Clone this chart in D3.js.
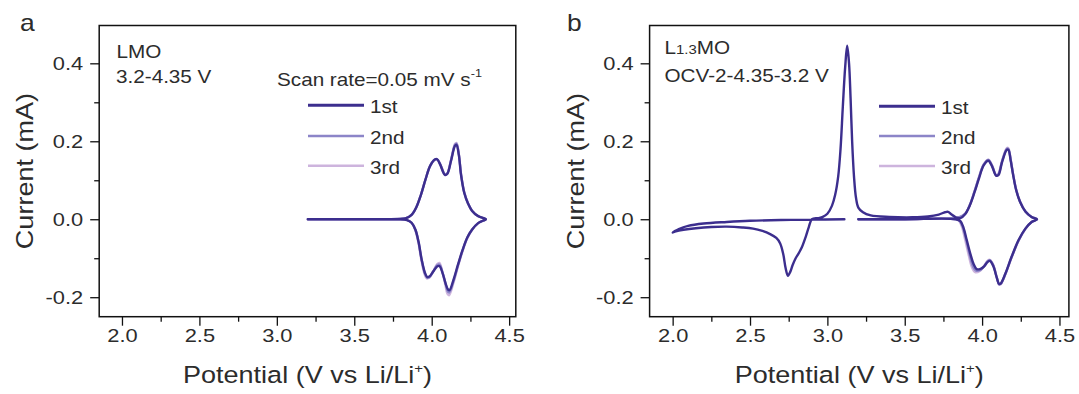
<!DOCTYPE html>
<html>
<head>
<meta charset="utf-8">
<script src="https://cdn.jsdelivr.net/npm/d3@7"></script>
<style>
  html, body { margin: 0; padding: 0; background: #fff; }
  svg { display: block; }
</style>
</head>
<body>
<svg id="chart" width="1079" height="394"></svg>
<script>
// ---- axis ticks ----
const potentialMajor = [2.0, 2.5, 3.0, 3.5, 4.0, 4.5];
const potentialMinor = [2.25, 2.75, 3.25, 3.75, 4.25];
const currentMajor = [-0.2, 0.0, 0.2, 0.4];
const currentMinor = [-0.1, 0.1, 0.3];
const cycleNames = ["1st", "2nd", "3rd"];

// ---- LMO, 3.2-4.35 V : [potential V, current mA] along the scan ----
const lmoCycle1 = [
  [3.20, 0.000], [3.50, 0.000], [3.70, 0.000], [3.78, 0.0005], [3.83, 0.002], [3.87, 0.011],
  [3.90, 0.030], [3.93, 0.062], [3.96, 0.102], [3.99, 0.137], [4.02, 0.153], [4.035, 0.154],
  [4.055, 0.140], [4.085, 0.114], [4.10, 0.116], [4.125, 0.150], [4.15, 0.188], [4.16, 0.191],
  [4.175, 0.165], [4.19, 0.112], [4.21, 0.068], [4.235, 0.040], [4.26, 0.022], [4.30, 0.008],
  [4.35, 0.000],
  [4.33, -0.004], [4.30, -0.010], [4.26, -0.027], [4.23, -0.047], [4.20, -0.078], [4.17, -0.116],
  [4.14, -0.156], [4.115, -0.182], [4.105, -0.180], [4.09, -0.165], [4.07, -0.138], [4.05, -0.120],
  [4.035, -0.121], [4.01, -0.134], [3.985, -0.147], [3.97, -0.148], [3.955, -0.136], [3.935, -0.103],
  [3.915, -0.058], [3.895, -0.027], [3.87, -0.009], [3.84, -0.002], [3.78, 0.000], [3.50, 0.000],
  [3.20, 0.000]
];
const lmoCycle2 = [
  [3.20, 0.000], [3.50, 0.000], [3.70, 0.000], [3.78, 0.0005], [3.83, 0.002], [3.87, 0.011],
  [3.90, 0.030], [3.93, 0.062], [3.96, 0.102], [3.99, 0.137], [4.02, 0.153], [4.035, 0.154],
  [4.055, 0.141], [4.085, 0.115], [4.10, 0.117], [4.125, 0.152], [4.15, 0.191], [4.16, 0.194],
  [4.175, 0.167], [4.19, 0.114], [4.21, 0.069], [4.235, 0.040], [4.26, 0.022], [4.30, 0.008],
  [4.35, 0.000],
  [4.33, -0.004], [4.30, -0.010], [4.26, -0.027], [4.23, -0.047], [4.20, -0.079], [4.17, -0.118],
  [4.14, -0.160], [4.113, -0.188], [4.103, -0.185], [4.09, -0.166], [4.07, -0.136], [4.05, -0.116],
  [4.035, -0.118], [4.01, -0.134], [3.985, -0.149], [3.97, -0.150], [3.955, -0.138], [3.935, -0.104],
  [3.915, -0.058], [3.895, -0.027], [3.87, -0.009], [3.84, -0.002], [3.78, 0.000], [3.50, 0.000],
  [3.20, 0.000]
];
const lmoCycle3 = [
  [3.20, 0.000], [3.50, 0.000], [3.70, 0.000], [3.78, 0.0005], [3.83, 0.002], [3.87, 0.011],
  [3.90, 0.030], [3.93, 0.062], [3.96, 0.102], [3.99, 0.137], [4.02, 0.152], [4.035, 0.153],
  [4.055, 0.141], [4.085, 0.116], [4.10, 0.118], [4.125, 0.153], [4.15, 0.193], [4.16, 0.196],
  [4.175, 0.169], [4.19, 0.115], [4.21, 0.070], [4.235, 0.041], [4.26, 0.022], [4.30, 0.008],
  [4.35, 0.000],
  [4.33, -0.004], [4.30, -0.010], [4.26, -0.028], [4.23, -0.049], [4.20, -0.081], [4.17, -0.121],
  [4.14, -0.164], [4.112, -0.195], [4.101, -0.191], [4.088, -0.168], [4.068, -0.134], [4.05, -0.112],
  [4.035, -0.115], [4.01, -0.133], [3.985, -0.150], [3.968, -0.152], [3.953, -0.140], [3.933, -0.105],
  [3.913, -0.058], [3.893, -0.027], [3.87, -0.009], [3.84, -0.002], [3.78, 0.000], [3.50, 0.000],
  [3.20, 0.000]
];

// ---- L1.3MO, OCV-2-4.35-3.2 V ----
const l13moCycle1 = [
  [3.11, 0.000], [2.90, -0.001], [2.70, -0.002], [2.50, -0.004], [2.35, -0.007], [2.20, -0.011],
  [2.10, -0.017], [2.04, -0.025], [2.00, -0.034],
  [2.02, -0.031], [2.07, -0.027], [2.15, -0.023], [2.25, -0.020], [2.35, -0.019], [2.45, -0.021],
  [2.52, -0.024], [2.58, -0.030], [2.63, -0.038], [2.67, -0.048], [2.695, -0.062], [2.715, -0.090],
  [2.73, -0.125], [2.745, -0.145], [2.76, -0.135], [2.775, -0.118], [2.795, -0.100], [2.815, -0.087],
  [2.835, -0.072], [2.86, -0.045], [2.88, -0.020], [2.90, 0.000], [2.94, 0.003], [2.97, 0.006],
  [3.00, 0.014], [3.03, 0.035], [3.05, 0.062], [3.07, 0.110], [3.085, 0.180], [3.10, 0.290],
  [3.115, 0.390], [3.128, 0.445], [3.14, 0.400], [3.15, 0.310], [3.16, 0.200], [3.172, 0.110],
  [3.185, 0.055], [3.20, 0.030], [3.23, 0.018], [3.28, 0.010], [3.40, 0.006], [3.55, 0.005],
  [3.65, 0.007], [3.72, 0.012], [3.76, 0.018], [3.78, 0.019], [3.80, 0.013], [3.83, 0.005],
  [3.86, 0.003], [3.89, 0.013], [3.92, 0.035], [3.95, 0.068], [3.98, 0.105], [4.01, 0.138],
  [4.04, 0.150], [4.065, 0.135], [4.09, 0.112], [4.105, 0.113], [4.13, 0.148], [4.16, 0.178],
  [4.17, 0.178], [4.185, 0.150], [4.20, 0.115], [4.22, 0.075], [4.245, 0.045], [4.28, 0.020],
  [4.32, 0.006], [4.355, 0.000],
  [4.32, -0.007], [4.28, -0.024], [4.235, -0.054], [4.19, -0.097], [4.15, -0.140], [4.12, -0.165],
  [4.11, -0.166], [4.095, -0.150], [4.072, -0.120], [4.05, -0.107], [4.035, -0.110], [4.015, -0.120],
  [3.99, -0.127], [3.965, -0.128], [3.945, -0.115], [3.925, -0.090], [3.90, -0.052], [3.88, -0.022],
  [3.86, -0.005], [3.83, 0.000], [3.50, 0.000], [3.20, 0.000]
];
const l13moCycle2 = [
  [3.20, 0.000], [3.50, 0.001], [3.70, 0.002], [3.80, 0.003], [3.85, 0.005], [3.89, 0.014],
  [3.92, 0.036], [3.95, 0.070], [3.98, 0.108], [4.01, 0.140], [4.04, 0.152], [4.065, 0.137],
  [4.09, 0.113], [4.105, 0.115], [4.13, 0.150], [4.16, 0.181], [4.17, 0.180], [4.185, 0.152],
  [4.20, 0.116], [4.22, 0.076], [4.245, 0.045], [4.28, 0.020], [4.32, 0.006], [4.355, 0.000],
  [4.32, -0.007], [4.28, -0.024], [4.235, -0.055], [4.19, -0.098], [4.15, -0.141], [4.12, -0.166],
  [4.11, -0.167], [4.095, -0.150], [4.072, -0.118], [4.05, -0.105], [4.035, -0.108], [4.015, -0.120],
  [3.99, -0.130], [3.96, -0.132], [3.94, -0.120], [3.92, -0.092], [3.895, -0.050], [3.875, -0.020],
  [3.855, -0.004], [3.83, 0.000], [3.50, 0.000], [3.20, 0.000]
];
const l13moCycle3 = [
  [3.20, 0.000], [3.50, 0.001], [3.70, 0.002], [3.80, 0.003], [3.85, 0.005], [3.89, 0.014],
  [3.92, 0.036], [3.95, 0.071], [3.98, 0.109], [4.01, 0.141], [4.04, 0.153], [4.065, 0.138],
  [4.09, 0.114], [4.105, 0.117], [4.13, 0.152], [4.16, 0.183], [4.17, 0.182], [4.185, 0.154],
  [4.20, 0.117], [4.22, 0.077], [4.245, 0.046], [4.28, 0.020], [4.32, 0.006], [4.355, 0.000],
  [4.32, -0.007], [4.28, -0.025], [4.235, -0.056], [4.19, -0.099], [4.15, -0.142], [4.12, -0.167],
  [4.11, -0.168], [4.095, -0.150], [4.072, -0.117], [4.05, -0.104], [4.035, -0.107], [4.01, -0.121],
  [3.985, -0.133], [3.955, -0.136], [3.935, -0.124], [3.915, -0.095], [3.89, -0.052], [3.87, -0.020],
  [3.85, -0.004], [3.83, 0.000], [3.50, 0.000], [3.20, 0.000]
];

// ---- styling ----
const FONT = "'Liberation Sans', Arial, Helvetica, sans-serif";
const STRETCH = 1.15;              // glyphs are drawn a little wider than the font's default
const cycleColors = ["#3c2e8e", "#8c85c8", "#cdb4dd"];
const cycleWidths = [2.4, 2.3, 2.3];
const legendWidths = [3, 2.5, 2.5];
const TEXT = "#2c2c2c";

const svg = d3.select("#chart");

function addText(g, x, y, parts, size, opts = {}) {
  const rot = opts.rotate ? ` rotate(${opts.rotate})` : "";
  const t = g.append("text")
    .attr("transform", `translate(${x},${y})${rot} scale(${STRETCH},1)`)
    .attr("font-family", FONT)
    .attr("font-size", size)
    .attr("fill", TEXT)
    .attr("text-anchor", opts.anchor || "start");
  parts.forEach(p => {
    const s = t.append("tspan").text(p.text);
    if (p.size) s.attr("font-size", p.size);
    if (p.dy) s.attr("dy", p.dy);
  });
  return t;
}

function drawPanel(cfg) {
  const g = svg.append("g");
  const x = d3.scaleLinear().domain(cfg.xDomain).range([cfg.left, cfg.right]);
  const y = d3.scaleLinear().domain([-0.25, 0.497]).range([cfg.bottom, cfg.top]);

  // CV curves: later cycles underneath, first cycle on top
  const line = d3.line()
    .x(d => x(d[0]))
    .y(d => y(d[1]))
    .curve(d3.curveCatmullRom.alpha(0.5));
  [2, 1, 0].forEach(i => {
    g.append("path")
      .datum(cfg.cycles[i])
      .attr("d", line)
      .attr("fill", "none")
      .attr("stroke", cycleColors[i])
      .attr("stroke-width", cycleWidths[i])
      .attr("stroke-linejoin", "round")
      .attr("stroke-linecap", "round");
  });

  // axes (outward ticks)
  const fmt = d => d.toFixed(1);
  const xAx = g.append("g").attr("transform", `translate(0,${cfg.bottom})`)
    .call(d3.axisBottom(x).tickValues(potentialMajor).tickFormat(fmt).tickSize(9).tickPadding(3).tickSizeOuter(0));
  g.append("g").attr("transform", `translate(0,${cfg.bottom})`)
    .call(d3.axisBottom(x).tickValues(potentialMinor).tickFormat("").tickSize(5).tickSizeOuter(0));
  const yAx = g.append("g").attr("transform", `translate(${cfg.left},0)`)
    .call(d3.axisLeft(y).tickValues(currentMajor).tickFormat(fmt).tickSize(9).tickPadding(7).tickSizeOuter(0));
  g.append("g").attr("transform", `translate(${cfg.left},0)`)
    .call(d3.axisLeft(y).tickValues(currentMinor).tickFormat("").tickSize(5).tickSizeOuter(0));

  g.selectAll(".domain").remove();
  g.selectAll(".tick line").attr("stroke", "#111").attr("stroke-width", 1.3);
  [xAx, yAx].forEach(ax => {
    ax.selectAll("text")
      .attr("font-family", FONT)
      .attr("font-size", 19)
      .attr("fill", TEXT)
      .each(function () {
        const el = d3.select(this);
        const tx = +el.attr("x") || 0;
        el.attr("x", tx / STRETCH).attr("transform", `scale(${STRETCH},1)`);
      });
  });

  // frame
  g.append("rect")
    .attr("x", cfg.left).attr("y", cfg.top)
    .attr("width", cfg.right - cfg.left).attr("height", cfg.bottom - cfg.top)
    .attr("fill", "none").attr("stroke", "#111").attr("stroke-width", 1.5);

  // axis titles
  addText(g, (cfg.left + cfg.right) / 2, 383,
    [{ text: "Potential (V vs Li/Li" }, { text: "+", size: 13, dy: -10 }, { text: ")", dy: 10 }],
    23.5, { anchor: "middle" });
  addText(g, cfg.yTitleX, (cfg.top + cfg.bottom) / 2, [{ text: "Current (mA)" }], 23.5,
    { anchor: "middle", rotate: -90 });

  // panel letter
  addText(g, cfg.letterX, 31, [{ text: cfg.letter }], 23);

  // annotations
  cfg.notes.forEach(n => addText(g, n.x, n.y, n.parts, 18));

  // legend
  cycleNames.forEach((name, i) => {
    const ly = cfg.legendY[i];
    g.append("line")
      .attr("x1", cfg.legendX).attr("x2", cfg.legendX + 56)
      .attr("y1", ly).attr("y2", ly)
      .attr("stroke", cycleColors[i]).attr("stroke-width", legendWidths[i]);
    addText(g, cfg.legendX + 62, ly + 8, [{ text: name }], 18);
  });
}

drawPanel({
  letter: "a", letterX: 20,
  left: 99.2, right: 515.8, top: 25.5, bottom: 316.7,
  xDomain: [1.853, 4.543],
  yTitleX: 32.5,
  cycles: [lmoCycle1, lmoCycle2, lmoCycle3],
  legendX: 308, legendY: [105.3, 136, 165.7],
  notes: [
    { x: 116.5, y: 57.5, parts: [{ text: "LMO" }] },
    { x: 116, y: 82.5, parts: [{ text: "3.2-4.35 V" }] },
    { x: 277, y: 86, parts: [{ text: "Scan rate=0.05 mV s" }, { text: "-1", size: 11, dy: -9 }] }
  ]
});

drawPanel({
  letter: "b", letterX: 567,
  left: 649.6, right: 1068.9, top: 25.5, bottom: 316.7,
  xDomain: [1.851, 4.561],
  yTitleX: 584,
  cycles: [l13moCycle1, l13moCycle2, l13moCycle3],
  legendX: 879, legendY: [106.3, 136, 166],
  notes: [
    { x: 664.5, y: 53.5, parts: [{ text: "L" }, { text: "1.3", size: 13 }, { text: "MO" }] },
    { x: 664.5, y: 82, parts: [{ text: "OCV-2-4.35-3.2 V" }] }
  ]
});
</script>
</body>
</html>
